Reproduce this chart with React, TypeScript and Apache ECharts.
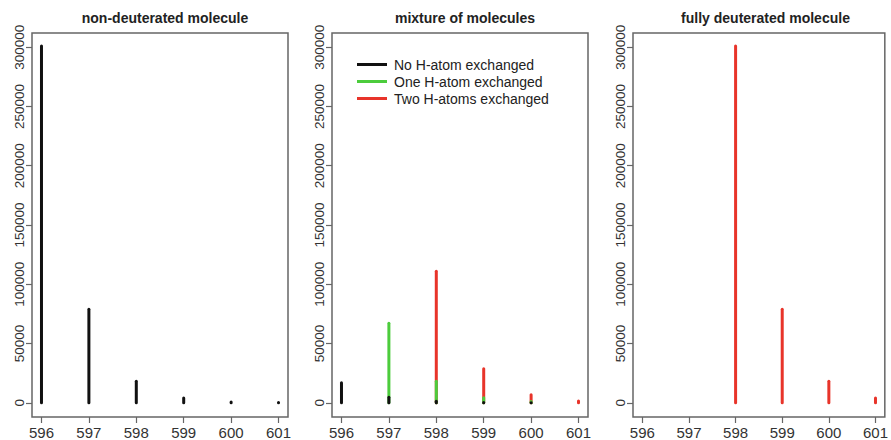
import React, { useEffect, useRef } from "react";
import * as echarts from "echarts";

const masses = [596, 597, 598, 599, 600, 601];
const yTicks = [0, 50000, 100000, 150000, 200000, 250000, 300000];
const titles = ["non-deuterated molecule", "mixture of molecules", "fully deuterated molecule"];
const legendNames = ["No H-atom exchanged", "One H-atom exchanged", "Two H-atoms exchanged"];

// panel 1: non-deuterated
const nonDeuterated = [301000, 79000, 18200, 4000, 700, 200];
// panel 2: mixture
const mixNone = [16800, 4600, 1200, 300, 100, 0];
const mixOne = [0, 67000, 18200, 4200, 1000, 0];
const mixTwo = [0, 0, 111000, 28800, 6800, 1600];
// panel 3: fully deuterated
const fullyDeuterated = [0, 0, 301000, 79000, 18200, 4000];

const BLACK = "#111111";
const GREEN = "#4ccc3c";
const RED = "#e8342a";

function toPoints(vals: number[]) {
  const out: number[][] = [];
  vals.forEach((v, i) => {
    if (v > 0) out.push([masses[i], v]);
  });
  return out;
}

function stickSeries(name: string, vals: number[], color: string, idx: number) {
  return {
    type: "custom",
    name,
    xAxisIndex: idx,
    yAxisIndex: idx,
    itemStyle: { color },
    data: toPoints(vals),
    renderItem: (params: any, api: any) => {
      const p0 = api.coord([api.value(0), 0]);
      const p1 = api.coord([api.value(0), api.value(1)]);
      return {
        type: "line",
        shape: { x1: p0[0], y1: p0[1], x2: p1[0], y2: p1[1] },
        style: { stroke: color, lineWidth: 3, lineCap: "round" },
      };
    },
  };
}

const grids = [
  { left: 32, width: 256 },
  { left: 332, width: 256 },
  { left: 633, width: 255 },
];

export default function App() {
  const ref = useRef<HTMLDivElement>(null);
  useEffect(() => {
    if (!ref.current) return;
    const chart = echarts.init(ref.current, null, { renderer: "svg" });
    const font = "'Liberation Sans', Arial, sans-serif";
    const option: any = {
      animation: false,
      backgroundColor: "#ffffff",
      title: titles.map((t, i) => ({
        text: t,
        left: grids[i].left + grids[i].width / 2,
        textAlign: "center",
        top: 6,
        textStyle: { fontFamily: font, fontSize: 14, fontWeight: "bold", color: "#222" },
      })),
      legend: {
        data: legendNames,
        orient: "vertical",
        left: 352,
        top: 51,
        icon: "rect",
        itemWidth: 30,
        itemHeight: 3,
        itemGap: 0,
        textStyle: { fontFamily: font, fontSize: 14, color: "#222", lineHeight: 17, padding: [0, 0, 0, 2] },
      },
      grid: grids.map((g) => ({
        left: g.left,
        width: g.width,
        top: 33,
        height: 385,
        show: true,
        borderColor: "#666",
        borderWidth: 1.5,
        backgroundColor: "transparent",
      })),
      xAxis: grids.map((_, i) => ({
        type: "value",
        gridIndex: i,
        min: 595.8,
        max: 601.2,
        axisLine: { show: false, onZero: false },
        splitLine: { show: false },
        axisTick: { show: true, length: 6, lineStyle: { color: "#666", width: 1.2 }, customValues: masses },
        axisLabel: {
          customValues: masses,
          fontFamily: font,
          fontSize: 15,
          color: "#333",
          margin: 8,
          formatter: (v: number) => String(v),
        },
      })),
      yAxis: grids.map((_, i) => ({
        type: "value",
        gridIndex: i,
        min: -12000,
        max: 312000,
        axisLine: { show: false, onZero: false },
        splitLine: { show: false },
        axisTick: { show: true, length: 6, lineStyle: { color: "#666", width: 1.2 }, customValues: yTicks },
        axisLabel: {
          customValues: yTicks,
          rotate: 90,
          fontFamily: font,
          fontSize: 13.5,
          color: "#333",
          margin: 6,
          formatter: (v: number) => String(v),
        },
      })),
      series: [
        stickSeries("p1", nonDeuterated, BLACK, 0),
        stickSeries(legendNames[2], mixTwo, RED, 1),
        stickSeries(legendNames[1], mixOne, GREEN, 1),
        stickSeries(legendNames[0], mixNone, BLACK, 1),
        stickSeries("p3", fullyDeuterated, RED, 2),
      ],
    };
    chart.setOption(option);
    return () => chart.dispose();
  }, []);
  return (
    <div
      ref={ref}
      style={{ position: "fixed", left: 0, top: 0, width: 891, height: 440, background: "#fff" }}
    />
  );
}
